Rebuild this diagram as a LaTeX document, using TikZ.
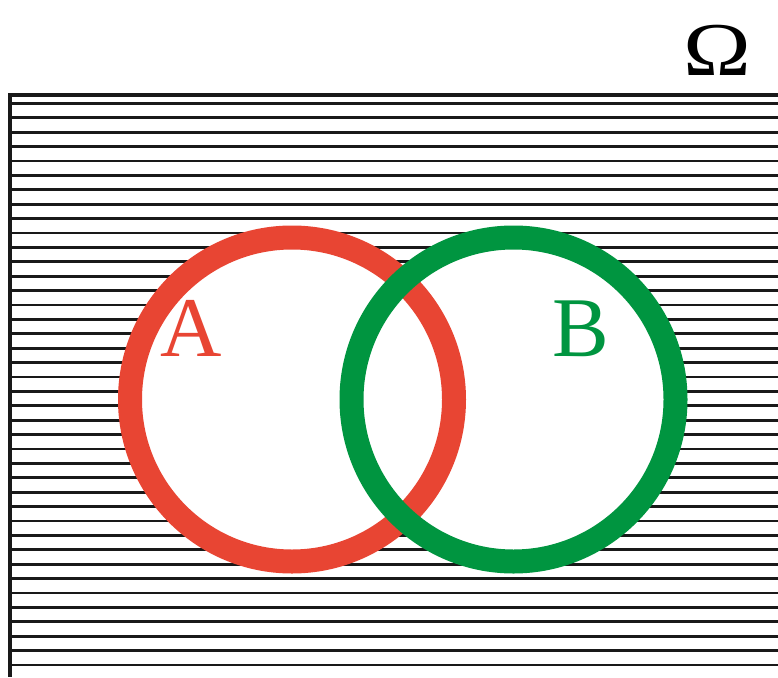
\documentclass[tikz,border=0pt]{standalone}
\usepackage{fontspec}
\setmainfont{Liberation Serif}
\definecolor{ringred}{RGB}{232,69,51}
\definecolor{ringgreen}{RGB}{0,149,64}
\begin{document}
\begin{tikzpicture}[x=1pt,y=-1pt,
  hatch/.style={line width=2.8pt,black!90},
  ring/.style={circle,draw,line width=24pt,minimum size=324pt,inner sep=0pt},
  letter/.style={anchor=base,inner sep=0pt,font=\fontsize{85}{85}\selectfont}]
\useasboundingbox (0,0) rectangle (778,677);
\fill[white] (0,0) rectangle (778,677);
% hatching
\foreach \k in {0,...,39}{
  \draw[hatch] (10,{103.3+14.4*\k}) -- (778,{103.3+14.4*\k});
}
\draw[line width=4pt,black!90] (778,95) -- (8.5,95);
\draw[line width=3.5pt,black!90] (10,93) -- (10,677);
% fills
\fill[white] (292,399.5) circle (162pt);
\fill[white] (513.5,399.5) circle (162pt);
% rings
\node[ring,draw=ringred] (ra) at (292,399.5) {};
\node[ring,draw=ringgreen] (rb) at (513.5,399.5) {};
% labels
\node[letter,text=ringred] (la) at (191,356) {A};
\node[letter,text=ringgreen] (lb) at (581,356) {B};
\node[anchor=base,inner sep=0pt,font=\fontsize{76}{76}\selectfont,xscale=1.2] (om) at (717,75) {Ω};
\end{tikzpicture}
\end{document}
